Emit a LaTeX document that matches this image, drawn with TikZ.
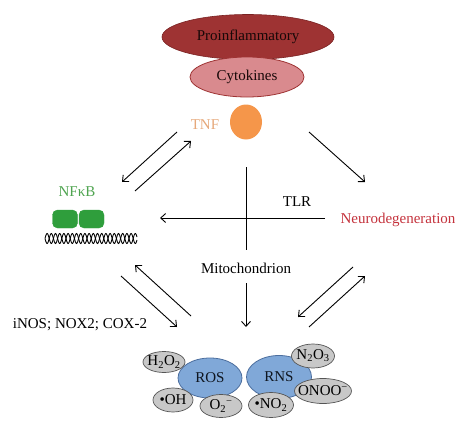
\documentclass[tikz,border=0pt]{standalone}
\usepackage{fontspec}
\setmainfont{Liberation Serif}
\usetikzlibrary{arrows.meta,shapes.geometric}
\definecolor{proinf}{HTML}{9E3333}
\definecolor{proinfd}{HTML}{7A2222}
\definecolor{cyto}{HTML}{D98A8E}
\definecolor{tnfc}{HTML}{F5964A}
\definecolor{tnft}{HTML}{E6A87A}
\definecolor{nfg}{HTML}{2F9E3C}
\definecolor{nft}{HTML}{4FA450}
\definecolor{neuro}{HTML}{C4323C}
\definecolor{blu}{HTML}{80A8D8}
\definecolor{blud}{HTML}{4C6E9E}
\definecolor{gry}{HTML}{C8C8C8}
\definecolor{gryd}{HTML}{555555}
\tikzset{
  lbl/.style={font=\fontsize{15}{18}\selectfont, inner sep=0pt},
  arr/.style={line width=0.9pt, -{Straight Barb[length=5pt,width=9pt]}},
  plainline/.style={line width=0.9pt},
  blueell/.style={ellipse, fill=blu, draw=blud, line width=0.8pt, inner sep=0pt},
  grayell/.style={ellipse, fill=gry, draw=gryd, line width=0.7pt, inner sep=0pt},
}
\begin{document}
\begin{tikzpicture}[x=1pt,y=-1pt]
\useasboundingbox (0,0) rectangle (474,436);
% top ellipses
\node[ellipse, fill=proinf, draw=proinfd, line width=0.6pt, minimum width=172pt, minimum height=45pt] (pro) at (248,37) {};
\node[ellipse, fill=cyto, draw=proinf, line width=0.8pt, minimum width=114pt, minimum height=40pt] (cyt) at (247,77) {};
\node[lbl, text=black!85!proinf] (protxt) at (248,37) {Proinflammatory};
\node[lbl, text=black!85!proinf] (cyttxt) at (247,77) {Cytokines};
% TNF
\node[ellipse, fill=tnfc, minimum width=32pt, minimum height=35pt, inner sep=0pt] (tnf) at (246,122) {};
\node[lbl, text=tnft] (tnftxt) at (205,125) {TNF};
% NFkB
\node[lbl, text=nft] (nftxt) at (77,192) {NFκB};
\node[draw=nfg, fill=nfg, rounded corners=5pt, minimum width=25pt, minimum height=18pt, inner sep=0pt] (nf1) at (65,219) {};
\node[draw=nfg, fill=nfg, rounded corners=5pt, minimum width=25pt, minimum height=18pt, inner sep=0pt] (nf2) at (91.5,219) {};
\draw[line width=0.9pt] plot[domain=45:137, samples=220, smooth] (\x, {238.5+5*sin(42.857*(\x-45))});
\draw[line width=0.9pt] plot[domain=45:137, samples=220, smooth] (\x, {238.5-5*sin(42.857*(\x-45))});
% other labels
\node[lbl] (tlr) at (297,202) {TLR};
\node[lbl, text=neuro] (neu) at (398,220) {Neurodegeneration};
\node[lbl] (mito) at (246,268) {Mitochondrion};
\node[lbl] (inos) at (80,325) {iNOS; NOX2; COX-2};
% arrow endpoints
\coordinate (a1s) at (177,132); \coordinate (a1e) at (122,182);
\coordinate (a2s) at (135,191); \coordinate (a2e) at (191,141);
\coordinate (a3s) at (309,132); \coordinate (a3e) at (365,182);
\coordinate (ts) at (325,218); \coordinate (te) at (160,218);
\coordinate (vs) at (246,167); \coordinate (ve) at (246,250);
\coordinate (ms) at (246,283); \coordinate (me) at (246,327);
\coordinate (a4s) at (191,316); \coordinate (a4e) at (135,265);
\coordinate (a5s) at (121,276); \coordinate (a5e) at (177,327);
\coordinate (a6s) at (353,267); \coordinate (a6e) at (298,317);
\coordinate (a7s) at (309,327); \coordinate (a7e) at (365,276);
\draw[arr] (a1s) -- (a1e);
\draw[arr] (a2s) -- (a2e);
\draw[arr] (a3s) -- (a3e);
\draw[arr] (ts) -- (te);
\draw[plainline] (vs) -- (ve);
\draw[arr] (ms) -- (me);
\draw[arr] (a4s) -- (a4e);
\draw[arr] (a5s) -- (a5e);
\draw[arr] (a6s) -- (a6e);
\draw[arr] (a7s) -- (a7e);
% ROS / RNS
\node[blueell, minimum width=64pt, minimum height=40pt] (ros) at (210,378) {};
\node[blueell, minimum width=65pt, minimum height=43pt] (rns) at (279,377) {};
\node[lbl, text=black!80!blud] (rostxt) at (210,378) {ROS};
\node[lbl, text=black!80!blud] (rnstxt) at (279,377) {RNS};
\node[grayell, minimum width=42pt, minimum height=21pt] (h2o2) at (164,362) {};
\node[lbl] at (h2o2) {H\textsubscript{2}O\textsubscript{2}};
\node[grayell, minimum width=40pt, minimum height=24pt] (oh) at (173,400) {};
\node[lbl] at (oh) {•OH};
\node[grayell, minimum width=42pt, minimum height=23pt] (o2) at (221,406) {};
\node[lbl] at (o2) {O\textsubscript{2}\textsuperscript{−}};
\node[grayell, minimum width=43pt, minimum height=24pt] (n2o3) at (313,356) {};
\node[lbl] at (n2o3) {N\textsubscript{2}O\textsubscript{3}};
\node[grayell, minimum width=57pt, minimum height=25pt] (onoo) at (323,391) {};
\node[lbl] at (onoo) {ONOO\textsuperscript{−}};
\node[grayell, minimum width=45pt, minimum height=25pt] (no2) at (271,405) {};
\node[lbl] at (no2) {•NO\textsubscript{2}};
\end{tikzpicture}
\end{document}
